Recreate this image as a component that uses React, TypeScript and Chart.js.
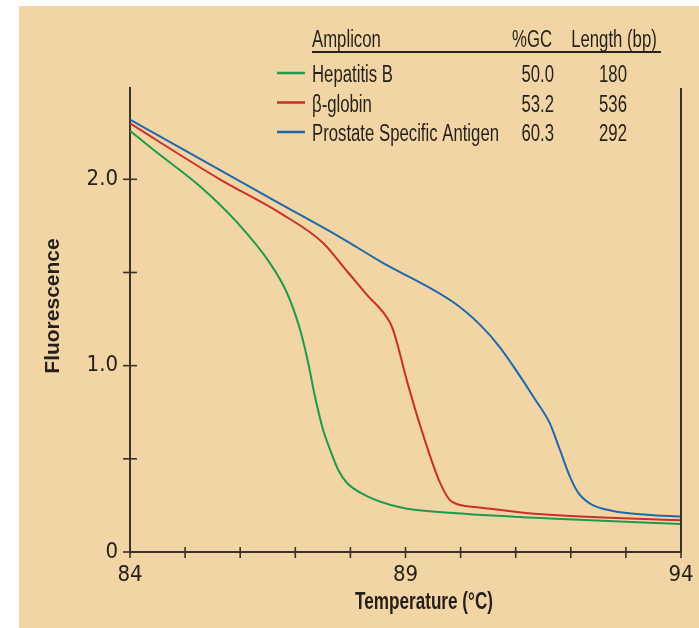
import React, { useEffect, useRef } from "react";
import { Chart, registerables } from "chart.js";

Chart.register(...registerables);

// ---- data ----
const amplicons = ["Hepatitis B", "β-globin", "Prostate Specific Antigen"];
const gcPercent = ["50.0", "53.2", "60.3"];
const lengthsBp = ["180", "536", "292"];
const seriesColors = ["#1e9a4b", "#c9302a", "#1f68ad"];

const hepBTemp = [84.0, 84.42, 85.32, 85.94, 86.54, 86.85, 87.09, 87.23, 87.36, 87.5, 87.63, 87.78, 87.94, 88.3, 88.9, 89.81, 91.62, 94.0];
const hepBFluor = [2.26, 2.16, 1.95, 1.77, 1.55, 1.39, 1.19, 1.02, 0.83, 0.66, 0.55, 0.44, 0.37, 0.3, 0.24, 0.21, 0.18, 0.15];

const globinTemp = [84.0, 85.63, 86.72, 87.5, 87.93, 88.3, 88.72, 88.81, 89.02, 89.29, 89.63, 89.84, 90.3, 91.02, 91.62, 94.0];
const globinFluor = [2.3, 2.0, 1.82, 1.66, 1.51, 1.38, 1.23, 1.16, 0.925, 0.656, 0.37, 0.27, 0.24, 0.215, 0.2, 0.17];

const psaTemp = [84.0, 86.72, 87.81, 88.54, 89.87, 90.35, 90.71, 90.95, 91.35, 91.62, 91.8, 91.99, 92.13, 92.35, 92.77, 93.38, 94.0];
const psaFluor = [2.32, 1.87, 1.69, 1.56, 1.34, 1.22, 1.1, 1.0, 0.82, 0.69, 0.55, 0.4, 0.32, 0.26, 0.22, 0.2, 0.19];

const xTickLabels = [84, 89, 94];
const yTickLabels = [0, 1, 2];
const xAxisTitle = "Temperature (°C)";
const yAxisTitle = "Fluorescence";
const legendHeaders = ["Amplicon", "%GC", "Length (bp)"];

const NARROW = "'Liberation Sans Narrow', 'DejaVu Sans Condensed', 'Liberation Sans', sans-serif";
const REGULAR = "'Liberation Sans', Arial, sans-serif";
const INK = "#241f1a";
const AXIS = "#3a3127";
const BG = "#f2d5a5";

const toPoints = (xs: number[], ys: number[]) => xs.map((x, i) => ({ x, y: ys[i] }));

function squeezed(ctx: CanvasRenderingContext2D, text: string, x: number, y: number, align: CanvasTextAlign, sx: number) {
  ctx.save();
  ctx.translate(x, y);
  ctx.scale(sx, 1);
  ctx.textAlign = align;
  ctx.fillText(text, 0, 0);
  ctx.restore();
}

const decorPlugin = {
  id: "decor",
  afterDraw(chart: any) {
    const { ctx, chartArea } = chart;
    const xs = chart.scales.x;
    const ys = chart.scales.y;
    ctx.save();
    // right frame line
    ctx.strokeStyle = AXIS;
    ctx.lineWidth = 2;
    ctx.beginPath();
    ctx.moveTo(chartArea.right, chartArea.top);
    ctx.lineTo(chartArea.right, chartArea.bottom);
    ctx.stroke();
    // crossing tick marks
    ctx.lineWidth = 1.6;
    xs.ticks.forEach((t: any) => {
      const px = xs.getPixelForValue(t.value);
      ctx.beginPath();
      ctx.moveTo(px, chartArea.bottom - 5);
      ctx.lineTo(px, chartArea.bottom + 6);
      ctx.stroke();
    });
    ys.ticks.forEach((t: any) => {
      const py = ys.getPixelForValue(t.value);
      ctx.beginPath();
      ctx.moveTo(chartArea.left - 7, py);
      ctx.lineTo(chartArea.left + 7, py);
      ctx.stroke();
    });

    // axis titles
    ctx.fillStyle = INK;
    ctx.textBaseline = "middle";
    ctx.font = `bold 23px ${REGULAR}`;
    const tw = ctx.measureText(xAxisTitle).width;
    squeezed(ctx, xAxisTitle, 405, 597, "center", 138 / tw);
    ctx.save();
    ctx.translate(34, 300);
    ctx.rotate(-Math.PI / 2);
    ctx.font = `bold 21px ${REGULAR}`;
    ctx.textAlign = "center";
    ctx.fillText(yAxisTitle, 0, 0);
    ctx.restore();

    // legend table
    ctx.textBaseline = "alphabetic";
    ctx.font = `23px ${REGULAR}`;
    const sx = 187 / ctx.measureText(amplicons[2]).width;
    squeezed(ctx, legendHeaders[0], 293, 41, "left", sx);
    squeezed(ctx, legendHeaders[1], 533, 41, "right", sx);
    squeezed(ctx, legendHeaders[2], 595, 41, "center", sx);
    ctx.strokeStyle = INK;
    ctx.lineWidth = 2;
    ctx.beginPath();
    ctx.moveTo(293, 46);
    ctx.lineTo(642, 46);
    ctx.stroke();
    const baselines = [76, 105.5, 135];
    chart.data.datasets.forEach((ds: any, i: number) => {
      const b = baselines[i];
      ctx.strokeStyle = ds.borderColor;
      ctx.lineWidth = 2.5;
      ctx.beginPath();
      ctx.moveTo(258, b - 9);
      ctx.lineTo(286, b - 9);
      ctx.stroke();
      ctx.fillStyle = INK;
      squeezed(ctx, amplicons[i], 293, b, "left", sx);
      squeezed(ctx, gcPercent[i], 535, b, "right", sx);
      squeezed(ctx, lengthsBp[i], 594, b, "center", sx);
    });
    ctx.restore();
  },
};

export default function App() {
  const ref = useRef<HTMLCanvasElement | null>(null);
  useEffect(() => {
    document.body.style.margin = "0";
    const canvas = ref.current;
    if (!canvas) return;
    const chart = new Chart(canvas, {
      type: "line",
      data: {
        datasets: [
          { label: amplicons[0], data: toPoints(hepBTemp, hepBFluor), borderColor: seriesColors[0] },
          { label: amplicons[1], data: toPoints(globinTemp, globinFluor), borderColor: seriesColors[1] },
          { label: amplicons[2], data: toPoints(psaTemp, psaFluor), borderColor: seriesColors[2] },
        ].map((d) => ({ ...d, borderWidth: 2, pointRadius: 0, cubicInterpolationMode: "monotone" as const, fill: false })),
      },
      options: {
        responsive: false,
        animation: false,
        devicePixelRatio: 1,
        layout: { padding: { top: 82, right: 18, left: 0, bottom: 0 } },
        plugins: { legend: { display: false }, tooltip: { enabled: false } },
        scales: {
          x: {
            type: "linear",
            min: 84,
            max: 94,
            grid: { display: false, drawTicks: false, tickLength: 0 },
            border: { display: true, color: AXIS, width: 2 },
            ticks: {
              stepSize: 1,
              autoSkip: false,
              maxRotation: 0,
              includeBounds: false,
              padding: 10,
              color: INK,
              font: { family: NARROW, size: 22 },
              callback: (v: any) => (xTickLabels.includes(Number(v)) ? String(v) : ""),
            },
            afterFit: (s: any) => {
              s.height = 76;
              s.paddingLeft = 0;
              s.paddingRight = 0;
            },
          },
          y: {
            type: "linear",
            min: 0,
            max: 2.49,
            grid: { display: false, drawTicks: false, tickLength: 0 },
            border: { display: true, color: AXIS, width: 2 },
            ticks: {
              stepSize: 0.5,
              includeBounds: false,
              autoSkip: false,
              padding: 12,
              color: INK,
              font: { family: NARROW, size: 22 },
              callback: (v: any) => {
                const n = Number(v);
                if (!yTickLabels.includes(n)) return "";
                return n === 0 ? "0" : n.toFixed(1);
              },
            },
            afterFit: (s: any) => {
              s.width = 111;
              s.paddingTop = 0;
              s.paddingBottom = 0;
            },
          },
        },
      },
      plugins: [decorPlugin],
    });
    return () => chart.destroy();
  }, []);

  return (
    <div style={{ position: "relative", width: 699, height: 628, background: "#ffffff", overflow: "hidden" }}>
      <canvas
        ref={ref}
        width={680}
        height={622}
        style={{ position: "absolute", left: 19, top: 6, width: 680, height: 622, background: BG }}
      />
    </div>
  );
}
